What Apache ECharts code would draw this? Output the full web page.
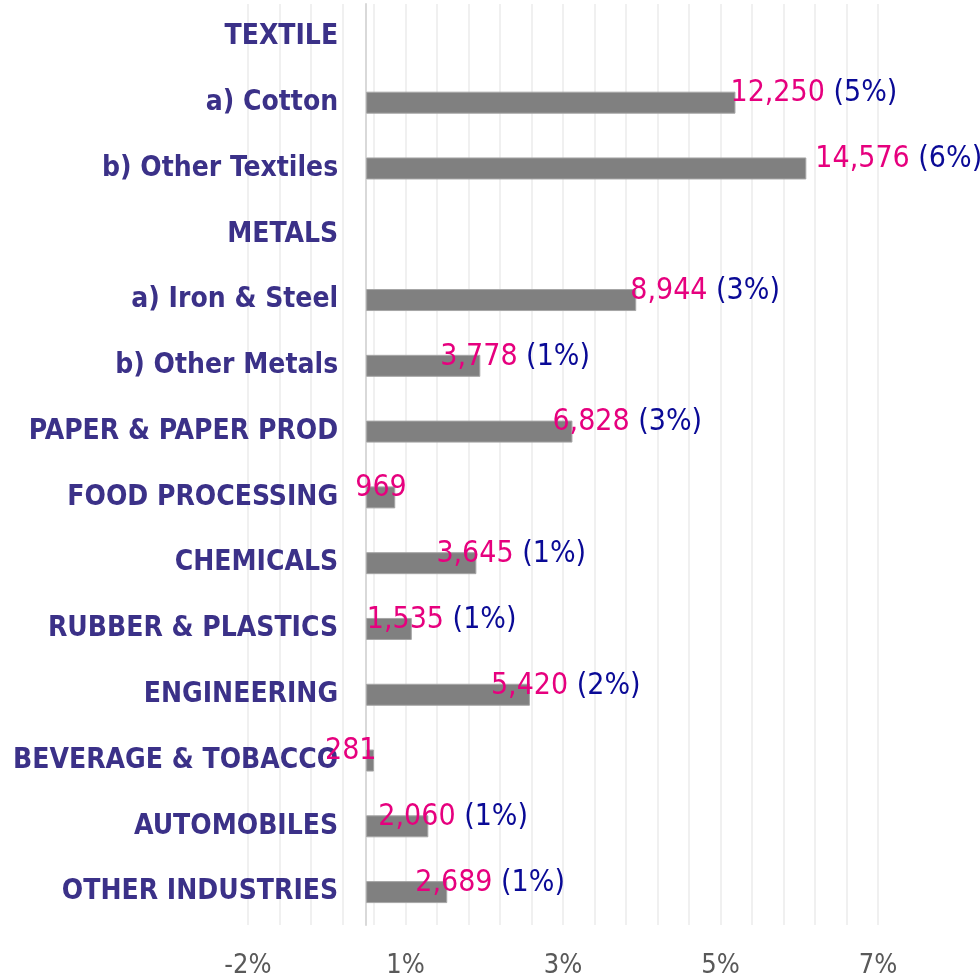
<!DOCTYPE html>
<html>
<head>
<meta charset="utf-8">
<script src="https://cdn.jsdelivr.net/npm/echarts@6/dist/echarts.min.js"></script>
<style>
  html, body { margin: 0; padding: 0; background: #fff; }
  #main { width: 980px; height: 980px; }
</style>
</head>
<body>
<div id="main"></div>
<script>
var FONT = '"DejaVu Sans Condensed", "DejaVu Sans", sans-serif';

// categories, top to bottom
var categories = [
    'TEXTILE', 'a) Cotton', 'b) Other Textiles', 'METALS', 'a) Iron & Steel',
    'b) Other Metals', 'PAPER & PAPER PROD', 'FOOD PROCESSING', 'CHEMICALS',
    'RUBBER & PLASTICS', 'ENGINEERING', 'BEVERAGE & TOBACCO', 'AUTOMOBILES',
    'OTHER INDUSTRIES'
];
// bar length = share of total (%)
var shares = [null, 4.69, 5.59, null, 3.43, 1.45, 2.62, 0.37, 1.40, 0.58, 2.08, 0.10, 0.79, 1.03];
// absolute values shown in the labels
var amounts = [null, 12250, 14576, null, 8944, 3778, 6828, 969, 3645, 1535, 5420, 281, 2060, 2689];
// rounded share shown next to the value
var pctText = ['', '(5%)', '(6%)', '', '(3%)', '(1%)', '(3%)', '', '(1%)', '(1%)', '(2%)', '', '(1%)', '(1%)'];
// x axis tick labels (from min, every 2%)
var tickLabels = ['-2%', '1%', '3%', '5%', '7%'];
var xMin = -1.5, xMax = 6.5;

// label nudge from the bar end (px), labels were placed by hand
var labelDx = [0, -5, 9, 0, -6, -40, -20, -40, -40, -45, -39, -49, -50, -32];

var gridLeft = 248, gridRight = 102;
var plotW = 980 - gridLeft - gridRight;
// category axis sits on the 0% line
var zeroShift = (0 - xMin) / (xMax - xMin) * plotW;

var barData = shares.map(function (v, i) {
    if (v === null) return null;
    return {
        value: v,
        label: { offset: [labelDx[i], -9] }
    };
});

echarts.init(document.getElementById('main')).setOption({
    animation: false,
    grid: {
        left: gridLeft,
        right: gridRight,
        top: 4,
        bottom: 55,
        containLabel: false,
        outerBoundsMode: 'none'
    },
    xAxis: {
        type: 'value',
        min: xMin,
        max: xMax,
        interval: 2,
        axisLine: { show: false },
        axisTick: { show: false },
        axisLabel: {
            margin: 27,
            color: '#595959',
            fontSize: 27,
            fontFamily: FONT,
            formatter: function (val, idx) {
                return tickLabels[idx] || '';
            }
        },
        splitLine: {
            show: true,
            lineStyle: { color: '#EBEBEB', width: 1.5 }
        },
        minorTick: { show: false, splitNumber: 5 },
        minorSplitLine: {
            show: true,
            lineStyle: { color: '#EBEBEB', width: 1.5 }
        }
    },
    yAxis: {
        type: 'category',
        inverse: true,
        data: categories,
        offset: -zeroShift,
        axisLine: {
            show: true,
            lineStyle: { color: '#D9D9D9', width: 2 }
        },
        axisTick: { show: false },
        axisLabel: {
            margin: 28,
            padding: [4, 0, 0, 0],
            color: '#3B3188',
            fontSize: 28,
            fontWeight: 'bold',
            fontFamily: FONT
        },
        splitLine: { show: false }
    },
    series: [
        {
            type: 'bar',
            data: barData,
            barWidth: 22,
            itemStyle: {
                color: '#808080',
                borderColor: '#A6A6A6',
                borderWidth: 1
            },
            label: {
                show: true,
                position: 'right',
                distance: 0,
                fontFamily: FONT,
                formatter: function (p) {
                    var i = p.dataIndex;
                    var s = '{v|' + amounts[i].toLocaleString('en-US') + '}';
                    if (pctText[i]) s += '{p| ' + pctText[i] + '}';
                    return s;
                },
                rich: {
                    v: { color: '#E6007E', fontSize: 30, fontFamily: FONT },
                    p: { color: '#0A0A96', fontSize: 30, fontFamily: FONT }
                }
            }
        }
    ]
});
</script>
</body>
</html>
